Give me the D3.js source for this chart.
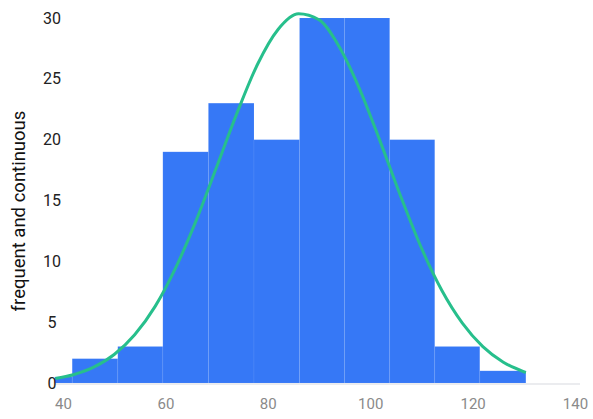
<!DOCTYPE html>
<html><head><meta charset="utf-8">
<script src="https://cdn.jsdelivr.net/npm/d3@7"></script>
<style>html,body{margin:0;padding:0;background:#fff;}svg{display:block;}</style>
</head><body>
<svg id="c" width="593" height="419"></svg>
<script>
// bin edges (x start, x end) and frequencies
const binStarts = [38.4, 41.8, 50.7, 59.5, 68.4, 77.3, 86.2, 95.0, 103.8, 112.6, 121.4];
const binEnds   = [41.8, 50.7, 59.5, 68.4, 77.3, 86.2, 95.0, 103.8, 112.6, 121.4, 130.4];
const freqs     = [0.5, 2, 3, 19, 23, 20, 30, 30, 20, 3, 1];
// continuous curve
const curveX = [38.5, 42, 46, 50, 54, 58, 62, 66, 70, 74, 78, 82, 86, 90, 94, 98, 102, 106, 110, 114, 118, 122, 126, 130.4];
const curveY = [0.37, 0.68, 1.3, 2.34, 3.96, 6.3, 9.46, 13.35, 17.75, 22.2, 26.2, 29.06, 30.35, 29.85, 27.6, 24.1, 19.8, 15.3, 11.1, 7.6, 4.92, 2.99, 1.71, 0.86];
const xTicks = [40, 60, 80, 100, 120, 140];
const yTicks = [0, 5, 10, 15, 20, 25, 30];
const yTitle = "frequent and continuous";

const svg = d3.select("#c");
const x = d3.scaleLinear().domain([40, 140]).range([63, 575]);
const y = d3.scaleLinear().domain([0, 30]).range([383, 18]);

// baseline
svg.append("line").attr("x1", 55).attr("x2", 580).attr("y1", y(0) + 1).attr("y2", y(0) + 1)
  .attr("stroke", "#e4e6ea").attr("stroke-width", 1.5);

// bars
svg.append("g").selectAll("rect").data(freqs).join("rect")
  .attr("x", (d, i) => x(binStarts[i]))
  .attr("width", (d, i) => x(binEnds[i]) - x(binStarts[i]))
  .attr("y", d => y(d))
  .attr("height", d => y(0) - y(d))
  .attr("fill", "#3678f6")
  .attr("stroke", "rgba(255,255,255,0.06)")
  .attr("stroke-width", 1);

// curve
const pts = curveX.map((v, i) => [v, curveY[i]]);
svg.append("path").datum(pts)
  .attr("d", d3.line().x(d => x(d[0])).y(d => y(d[1])).curve(d3.curveMonotoneX))
  .attr("fill", "none").attr("stroke", "#27bf8c").attr("stroke-width", 3);

// x axis
const xa = svg.append("g").attr("transform", `translate(0,${y(0)})`)
  .call(d3.axisBottom(x).tickValues(xTicks).tickSize(0).tickPadding(15));
xa.select(".domain").remove();
xa.selectAll("text").attr("fill", "#8a8a8a").style("font-family", "Roboto, sans-serif").style("font-size", "15px");

// y axis
const ya = svg.append("g").attr("transform", `translate(60,0)`)
  .call(d3.axisLeft(y).tickValues(yTicks).tickSize(0));
ya.select(".domain").remove();
ya.selectAll("text").attr("x", -8).attr("text-anchor", "middle").attr("dy", "0.32em")
  .attr("fill", "#222").style("font-family", "Roboto, sans-serif").style("font-size", "16px");

// y title
svg.append("text").attr("transform", "translate(25,211) rotate(-90)")
  .attr("text-anchor", "middle").attr("fill", "#111")
  .style("font-family", "Roboto, sans-serif").style("font-size", "18.5px")
  .text(yTitle);
</script>
</body></html>
